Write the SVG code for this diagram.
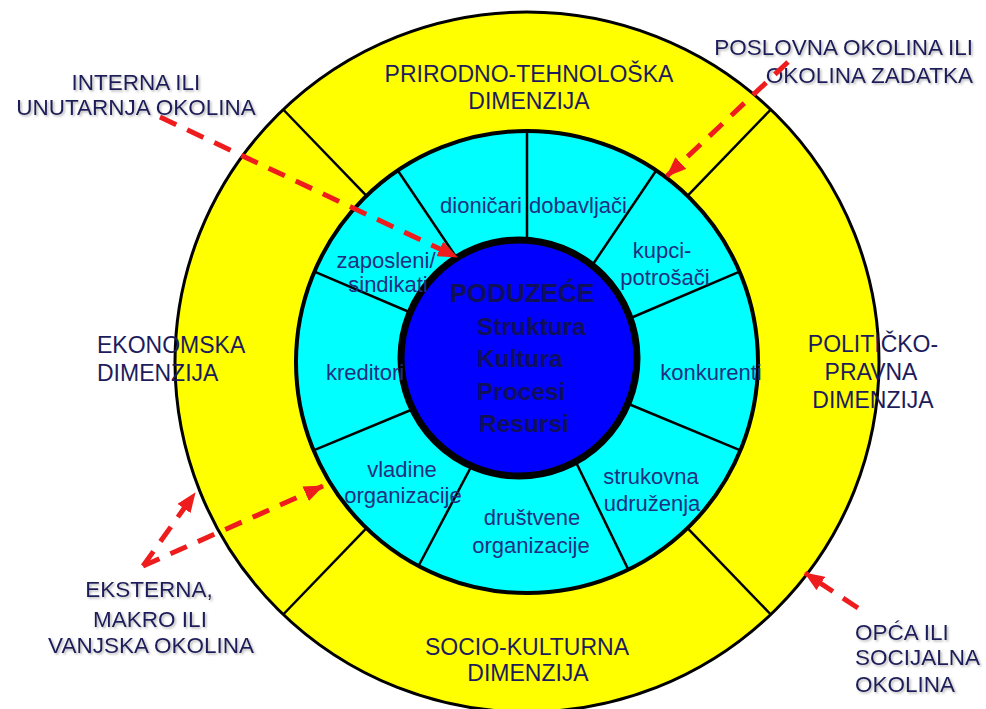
<svg xmlns="http://www.w3.org/2000/svg" width="986" height="709" viewBox="0 0 986 709">
<defs>
<marker id="ah" markerUnits="userSpaceOnUse" markerWidth="20" markerHeight="16" refX="19" refY="8" orient="auto">
<path d="M0,0 L20,8 L0,16 z" fill="#ee1c1c"/>
</marker>
<filter id="sh" x="-10%" y="-30%" width="120%" height="160%">
<feDropShadow dx="1.5" dy="1.5" stdDeviation="1" flood-color="#808080" flood-opacity="0.6"/>
</filter>
<style>
.cap{font-family:"Liberation Sans",Arial,sans-serif;font-size:23px;fill:#1c1c5c}
.out{font-family:"Liberation Sans",Arial,sans-serif;font-size:22.5px;fill:#1c1c5c;filter:url(#sh)}
.ring{font-family:"Liberation Sans",Arial,sans-serif;font-size:22px;fill:#1f2f7f;text-anchor:middle}
.core{font-family:"Liberation Sans",Arial,sans-serif;font-weight:bold;fill:#10105a}
.div{stroke:#000;stroke-width:2.5;fill:none}
.arr{stroke:#ee1c1c;stroke-width:5;stroke-dasharray:18 12;fill:none;marker-end:url(#ah)}
.mid{text-anchor:middle}
</style>
</defs>
<rect width="986" height="709" fill="#ffffff"/>

<g id="outer-ring">
<ellipse cx="527" cy="362" rx="352" ry="350" fill="#ffff00" stroke="#000" stroke-width="3"/>
<line class="div" x1="366.5" y1="195.8" x2="283.2" y2="109.5"/>
<line class="div" x1="687.5" y1="195.8" x2="770.8" y2="109.5"/>
<line class="div" x1="687.5" y1="528.2" x2="770.8" y2="614.5"/>
<line class="div" x1="366.5" y1="528.2" x2="283.2" y2="614.5"/>
</g>

<g id="inner-ring">
<circle cx="527" cy="362" r="231" fill="#00ffff" stroke="#000" stroke-width="4"/>
<line class="div" x1="527" y1="262" x2="527" y2="131"/>
<line class="div" x1="583" y1="279" x2="656.2" y2="170.5"/>
<line class="div" x1="619" y1="323" x2="739.6" y2="271.7"/>
<line class="div" x1="619" y1="400" x2="740.4" y2="450.4"/>
<line class="div" x1="571" y1="452" x2="628.3" y2="569.6"/>
<line class="div" x1="480" y1="450" x2="418.5" y2="566"/>
<line class="div" x1="435" y1="400" x2="313.6" y2="450.4"/>
<line class="div" x1="435" y1="323" x2="314.4" y2="271.7"/>
<line class="div" x1="471" y1="279" x2="397.8" y2="170.5"/>
</g>

<g id="core">
<circle cx="519" cy="358" r="118" fill="#0000ff" stroke="#000" stroke-width="7"/>
</g>

<g id="dim-prirodno"><text class="cap mid" x="529" y="82">PRIRODNO-TEHNOLOŠKA</text><text class="cap mid" x="529" y="109">DIMENZIJA</text></g>
<g id="dim-socio"><text class="cap mid" x="527" y="655">SOCIO-KULTURNA</text><text class="cap mid" x="528" y="681">DIMENZIJA</text></g>
<g id="dim-ekonomska"><text class="cap" x="97" y="353">EKONOMSKA</text><text class="cap" x="97" y="381">DIMENZIJA</text></g>
<g id="dim-politicko"><text class="cap mid" x="873" y="352">POLITIČKO-</text><text class="cap mid" x="871" y="380">PRAVNA</text><text class="cap mid" x="873" y="408">DIMENZIJA</text></g>

<g id="s-dionicari"><text class="ring" x="481" y="213">dioničari</text></g>
<g id="s-dobavljaci"><text class="ring" x="578" y="213">dobavljači</text></g>
<g id="s-kupci"><text class="ring" x="662" y="258">kupci-</text><text class="ring" x="665" y="285">potrošači</text></g>
<g id="s-konkurenti"><text class="ring" x="711" y="380">konkurenti</text></g>
<g id="s-strukovna"><text class="ring" x="651" y="484">strukovna</text><text class="ring" x="652" y="511">udruženja</text></g>
<g id="s-drustvene"><text class="ring" x="532" y="525">društvene</text><text class="ring" x="531" y="553">organizacije</text></g>
<g id="s-vladine"><text class="ring" x="402" y="477">vladine</text><text class="ring" x="403" y="503">organizacije</text></g>
<g id="s-kreditori"><text class="ring" x="365" y="380">kreditori</text></g>
<g id="s-zaposleni"><text class="ring" x="386" y="268">zaposleni/</text><text class="ring" x="388" y="292">sindikati</text></g>

<g id="poduzece">
<text class="core mid" x="522" y="302" font-size="26">PODUZEĆE</text>
<text class="core" x="477" y="335" font-size="24.5">Struktura</text>
<text class="core" x="477" y="367" font-size="24.5">Kultura</text>
<text class="core" x="477" y="400" font-size="24.5">Procesi</text>
<text class="core" x="479" y="432" font-size="24.5">Resursi</text>
</g>

<g id="lbl-interna"><text class="out mid" x="136" y="90">INTERNA ILI</text><text class="out mid" x="136" y="115">UNUTARNJA OKOLINA</text></g>
<g id="lbl-poslovna"><text class="out" x="973" y="55" text-anchor="end">POSLOVNA OKOLINA ILI</text><text class="out" x="973" y="83" text-anchor="end">OKOLINA ZADATKA</text></g>
<g id="lbl-eksterna"><text class="out mid" x="149" y="597">EKSTERNA,</text><text class="out mid" x="150" y="627">MAKRO ILI</text><text class="out mid" x="151" y="653">VANJSKA OKOLINA</text></g>
<g id="lbl-opca"><text class="out" x="855" y="640">OPĆA ILI</text><text class="out" x="855" y="665">SOCIJALNA</text><text class="out" x="855" y="692">OKOLINA</text></g>

<g id="connectors">
<line class="arr" x1="160" y1="117" x2="457" y2="257"/>
<line class="arr" x1="788" y1="62" x2="667" y2="176"/>
<line class="arr" x1="143" y1="566" x2="195" y2="493"/>
<line class="arr" x1="143" y1="566" x2="323" y2="486"/>
<line class="arr" x1="858" y1="608" x2="805" y2="573" stroke-dasharray="24 30"/>
</g>
</svg>
